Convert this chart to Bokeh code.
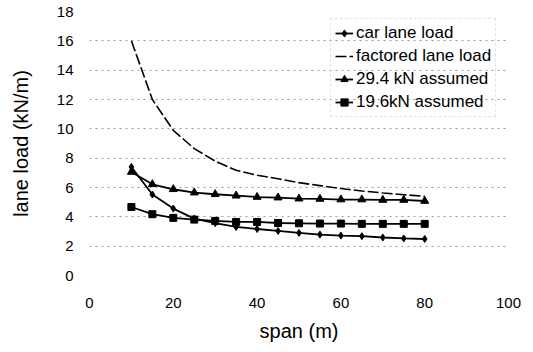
from bokeh.plotting import figure
from bokeh.embed import file_html
from bokeh.resources import INLINE
from bokeh.models import Range1d, FixedTicker, Legend, LegendItem

# ---- data ----
span = [10, 15, 20, 25, 30, 35, 40, 45, 50, 55, 60, 65, 70, 75, 80]
car_lane = [7.40, 5.52, 4.56, 3.88, 3.57, 3.31, 3.17, 3.04, 2.90, 2.79, 2.72, 2.68, 2.59, 2.53, 2.49]
factored_lane = [16.0, 12.0, 9.9, 8.65, 7.8, 7.17, 6.83, 6.6, 6.33, 6.13, 5.93, 5.76, 5.63, 5.51, 5.40]
kn_294 = [7.06, 6.22, 5.88, 5.65, 5.54, 5.44, 5.35, 5.31, 5.24, 5.22, 5.18, 5.18, 5.15, 5.15, 5.08]
kn_196 = [4.67, 4.18, 3.93, 3.81, 3.72, 3.65, 3.65, 3.58, 3.56, 3.54, 3.54, 3.52, 3.52, 3.52, 3.52]

x_ticks = [0, 20, 40, 60, 80, 100]
y_ticks = [0, 2, 4, 6, 8, 10, 12, 14, 16, 18]
labels = ["car lane load", "factored lane load", "29.4 kN assumed", "19.6kN assumed"]

FONT = "Liberation Sans"

p = figure(width=525, height=344, output_backend="svg", toolbar_location=None,
           x_range=Range1d(0, 100), y_range=Range1d(0, 18),
           min_border_left=89, min_border_right=17, min_border_top=11, min_border_bottom=69)
p.outline_line_color = None
p.background_fill_color = "white"

# grid
p.xgrid.grid_line_color = None
p.ygrid.grid_line_color = "#9a9a9a"
p.ygrid.grid_line_dash = "2 4"
p.ygrid.grid_line_width = 1

# axes
for ax in (p.xaxis, p.yaxis):
    ax.axis_line_color = None
    ax.major_tick_line_color = None
    ax.minor_tick_line_color = None
    ax.major_tick_in = 0
    ax.major_tick_out = 0
    ax.major_label_text_font = FONT
    ax.major_label_text_font_size = "15px"
    ax.major_label_text_color = "black"
    ax.axis_label_text_font = FONT
    ax.axis_label_text_font_size = "20px"
    ax.axis_label_text_font_style = "normal"
    ax.axis_label_text_color = "black"

p.xaxis.ticker = FixedTicker(ticks=x_ticks)
p.yaxis.ticker = FixedTicker(ticks=y_ticks)
p.ygrid.ticker = FixedTicker(ticks=y_ticks)
p.xaxis.major_label_standoff = 22
p.yaxis.major_label_standoff = 16
p.xaxis.axis_label = "span (m)"
p.yaxis.axis_label = "lane load (kN/m)"
p.xaxis.axis_label_standoff = 9
p.yaxis.axis_label_standoff = 22

# series
r_car_l = p.line(span, car_lane, line_color="black", line_width=1.8)
r_car_m = p.scatter(span, car_lane, marker="diamond", size=7, color="black")
r_fac = p.line(span, factored_lane, line_color="black", line_width=1.6, line_dash="11 3")
r_294_l = p.line(span, kn_294, line_color="black", line_width=1.8)
r_294_m = p.scatter(span, kn_294, marker="triangle", size=8, color="black")
r_196_l = p.line(span, kn_196, line_color="black", line_width=1.8)
r_196_m = p.scatter(span, kn_196, marker="square", size=7, color="black")

legend = Legend(items=[
    LegendItem(label=labels[0], renderers=[r_car_l, r_car_m]),
    LegendItem(label=labels[1], renderers=[r_fac]),
    LegendItem(label=labels[2], renderers=[r_294_l, r_294_m]),
    LegendItem(label=labels[3], renderers=[r_196_l, r_196_m]),
], location=(241, 158))
legend.label_text_font = FONT
legend.label_text_font_size = "17px"
legend.label_text_color = "black"
legend.label_standoff = 3
legend.glyph_width = 18
legend.glyph_height = 20
legend.label_height = 20
legend.spacing = 3
legend.padding = 4
legend.margin = 0
legend.background_fill_alpha = 0
legend.border_line_color = "#c8c8c8"
legend.border_line_dash = "1 3"
legend.border_line_width = 1
p.add_layout(legend, "center")

open("out.html", "w").write(file_html(p, INLINE))
